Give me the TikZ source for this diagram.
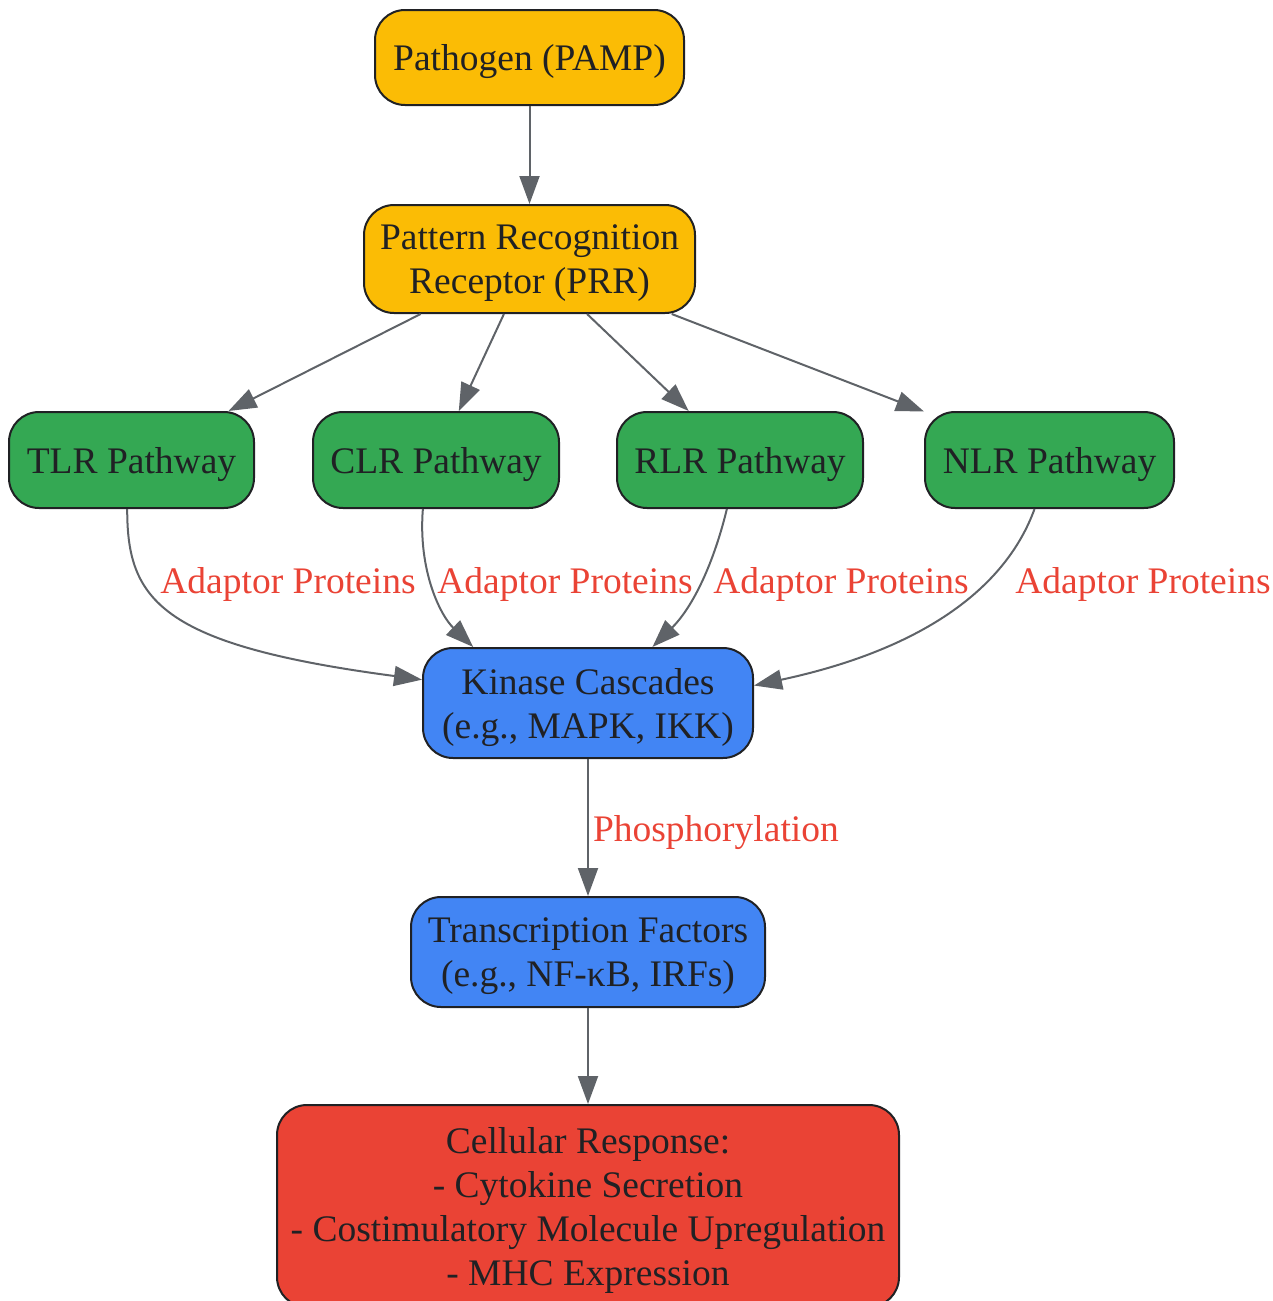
\documentclass[tikz,border=0pt]{standalone}
\usepackage{fontspec}
\setmainfont{Liberation Serif}
\usetikzlibrary{arrows.meta}

\definecolor{pampyellow}{HTML}{FBBC05}
\definecolor{pathgreen}{HTML}{34A853}
\definecolor{kinblue}{HTML}{4285F4}
\definecolor{respred}{HTML}{EA4335}
\definecolor{boxline}{HTML}{202124}
\definecolor{edgegray}{HTML}{5F6368}

\begin{document}
\begin{tikzpicture}[x=0.5pt,y=-0.5pt,
    box/.style={draw=boxline, line width=1pt, rounded corners=15pt, align=center,
      inner sep=0pt, text depth=-2pt, text=boxline, font=\fontsize{18.75}{22}\selectfont},
    edge/.style={draw=edgegray, line width=1pt, -{Triangle[length=14pt,width=10pt]}},
    lbl/.style={text=respred, anchor=west, inner sep=0pt, font=\fontsize{18.75}{22}\selectfont}]
    \useasboundingbox (0,0) rectangle (1273,1301);

    \node[box, fill=pampyellow, minimum width=154.5pt, minimum height=47.5pt] (pamp) at (529.5,57.5)
    {Pathogen (PAMP)};
    \node[box, fill=pampyellow, minimum width=165.5pt, minimum height=54pt] (prr) at (529.5,259)
    {Pattern Recognition\\Receptor (PRR)};
    \node[box, fill=pathgreen, minimum width=122.5pt, minimum height=48pt] (tlr) at (131.5,460)
    {TLR Pathway};
    \node[box, fill=pathgreen, minimum width=123pt, minimum height=48pt] (clr) at (436,460)
    {CLR Pathway};
    \node[box, fill=pathgreen, minimum width=123pt, minimum height=48pt] (rlr) at (740,460)
    {RLR Pathway};
    \node[box, fill=pathgreen, minimum width=124.5pt, minimum height=48pt] (nlr) at (1049.5,460)
    {NLR Pathway};
    \node[box, fill=kinblue, minimum width=165pt, minimum height=55pt] (kin) at (588,703)
    {Kinase Cascades\\(e.g., MAPK, IKK)};
    \node[box, fill=kinblue, minimum width=177pt, minimum height=55pt] (tf) at (588,952)
    {Transcription Factors\\(e.g., NF-κB, IRFs)};
    \node[box, fill=respred, minimum width=311pt, minimum height=101pt] (resp) at (588,1206)
    {Cellular Response:\\- Cytokine Secretion\\- Costimulatory Molecule Upregulation\\- MHC Expression};

    % edge labels
    \node[lbl] (adtlr) at (160,584) {Adaptor Proteins};
    \node[lbl] (adclr) at (437,584) {Adaptor Proteins};
    \node[lbl] (adrlr) at (713,584) {Adaptor Proteins};
    \node[lbl] (adnlr) at (1015,584) {Adaptor Proteins};

    \draw[edge] (pamp) -- (prr);
    \draw[edge] (prr) -- (tlr);
    \draw[edge] (prr) -- (clr);
    \draw[edge] (prr) -- (rlr);
    \draw[edge] (prr) -- (nlr);

    \draw[edge] (tlr.265) .. controls (127,600) and (160,645) .. (kin.172);
    \draw[edge] (clr.255) .. controls (418,570) and (440,615) .. (kin.154);
    \draw[edge] (rlr.255) .. controls (712,570) and (690,610) .. (kin.41);
    \draw[edge] (nlr.253) .. controls (1005,590) and (920,650) .. (kin.6);

    \draw[edge] (kin) -- (tf) node[lbl, midway, xshift=2pt, yshift=-2.5pt] (phos) {Phosphorylation};
    \draw[edge] (tf) -- (resp);
\end{tikzpicture}
\end{document}
